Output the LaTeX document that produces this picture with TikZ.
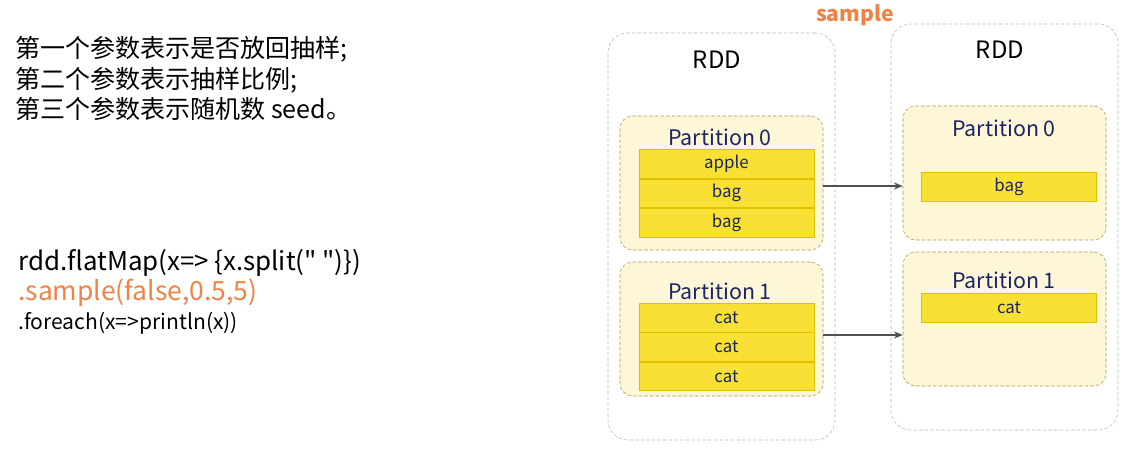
\documentclass[tikz,border=0pt]{standalone}
\usepackage{fontspec}
\setmainfont{Noto Sans CJK SC}
\newfontfamily\codefont{Noto Sans CJK SC}
\usetikzlibrary{arrows.meta,fit,positioning}
\definecolor{rddgray}{RGB}{185,185,185}
\definecolor{partedge}{RGB}{170,150,80}
\definecolor{partfill}{RGB}{253,247,216}
\definecolor{celledge}{RGB}{226,192,0}
\definecolor{cellfill}{RGB}{248,225,52}
\definecolor{navy}{RGB}{28,36,100}
\definecolor{sampleorange}{RGB}{240,130,70}
\definecolor{flowgray}{RGB}{80,80,80}
\tikzset{
    rdd diagram/.style = {x=0.025cm, y=-0.025cm, >={Stealth[length=2.2mm, width=1.8mm]}},
    rddbox/.style      = {draw=rddgray, dash pattern=on 2.5pt off 1.5pt,
                          rounded corners=14pt, inner sep=0pt},
    partbox/.style     = {draw=partedge, fill=partfill, dash pattern=on 2.5pt off 1.5pt,
                          rounded corners=9pt, inner sep=0pt},
    cell/.style        = {draw=celledge, fill=cellfill, text=navy, inner sep=0pt,
                          minimum width=4.38cm, minimum height=0.72cm,
                          font=\fontsize{12}{14}\selectfont},
    rddtitle/.style    = {font=\fontsize{17}{20}\selectfont},
    parttitle/.style   = {text=navy, font=\fontsize{15.2}{18}\selectfont},
    note/.style        = {anchor=west, inner sep=0pt, font=\fontsize{17.8}{20}\selectfont},
    code/.style        = {anchor=base west, inner sep=0pt, font=\codefont\fontsize{18.4}{21}\selectfont},
    flow/.style        = {->, draw=flowgray, line width=0.9pt}
}

\begin{document}
\begin{tikzpicture}[rdd diagram]
\useasboundingbox (0,0) rectangle (1135,448);

% ================= Notes and code =================
\node[note] (n1) at (15,49) {第一个参数表示是否放回抽样;};
\node[note] (n2) at (15,80) {第二个参数表示抽样比例;};
\node[note] (n3) at (15,109) {第三个参数表示随机数 seed。};
\node[code] (c1) at (18,270) {rdd.flatMap(x=> \{x.split(" ")\})};
\node[code, text=sampleorange, font=\codefont\fontsize{18.8}{21}\selectfont] (c2) at (18,300) {.sample(false,0.5,5)};
\node[code, font=\codefont\fontsize{15}{17}\selectfont] (c3) at (18,329) {.foreach(x=>println(x))};

% ================= Source RDD =================
\node[rddbox, fit={(608,33) (835,440)}] (rddL) {};
\node[rddtitle] (rddLt) at (717,60) {RDD};
\node[partbox, fit={(620,116) (823,250)}] (p0L) {};
\node[parttitle] (p0Lt) at (720,137) {Partition 0};
\node[cell] (a0) at (726.5,164) {apple};
\node[cell, below=0pt of a0] (a1) {bag};
\node[cell, below=0pt of a1] (a2) {bag};
\node[partbox, fit={(620,262) (823,396)}] (p1L) {};
\node[parttitle] (p1Lt) at (720,291) {Partition 1};
\node[cell] (b0) at (726.5,317.5) {cat};
\node[cell, below=0pt of b0] (b1) {cat};
\node[cell, below=0pt of b1] (b2) {cat};

% ================= Sampled RDD =================
\node[font=\bfseries\fontsize{15}{18}\selectfont, text=sampleorange] (op) at (855,15) {sample};
\node[rddbox, fit={(891,24) (1118,430)}] (rddR) {};
\node[rddtitle] (rddRt) at (1000,50) {RDD};
\node[partbox, fit={(903,106) (1106,240)}] (p0R) {};
\node[parttitle] (p0Rt) at (1004,128) {Partition 0};
\node[cell] (s0) at (1009,186.5) {bag};
\node[partbox, fit={(903,252) (1106,386)}] (p1R) {};
\node[parttitle] (p1Rt) at (1004,280) {Partition 1};
\node[cell] (s1) at (1009,307.5) {cat};

% ================= Arrows =================
\draw[flow] ([yshift=-0.075cm]p0L.east) -- ([yshift=-0.075cm]p0L.east -| p0R.west);
\draw[flow] ([yshift=-0.15cm]p1L.east) -- ([yshift=-0.15cm]p1L.east -| p1R.west);

\end{tikzpicture}
\end{document}
